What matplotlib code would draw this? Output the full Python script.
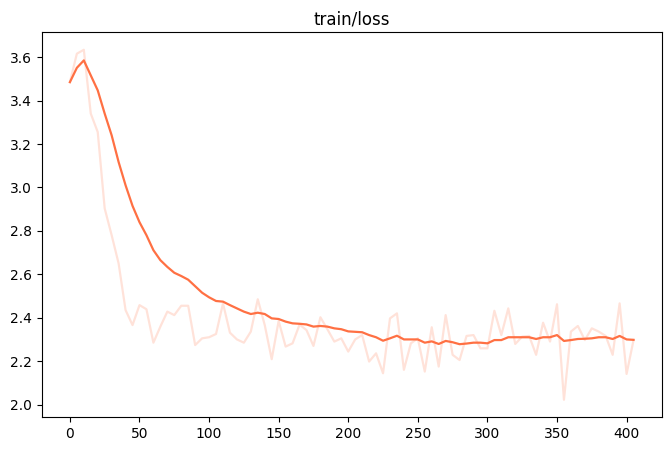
import matplotlib
matplotlib.use("Agg")
import matplotlib.pyplot as plt
import numpy as np

steps = np.arange(0, 410, 5)

raw_loss = [3.485, 3.616, 3.634, 3.34, 3.255, 2.903, 2.78, 2.65, 2.435, 2.366,
            2.458, 2.439, 2.285, 2.359, 2.428, 2.412, 2.455, 2.455, 2.274, 2.305,
            2.31, 2.325, 2.466, 2.331, 2.30, 2.285, 2.336, 2.485, 2.366, 2.209,
            2.385, 2.267, 2.282, 2.368, 2.343, 2.27, 2.402, 2.347, 2.29, 2.305,
            2.244, 2.30, 2.32, 2.198, 2.236, 2.144, 2.397, 2.42, 2.16, 2.282,
            2.305, 2.152, 2.356, 2.175, 2.412, 2.229, 2.205, 2.316, 2.32, 2.259,
            2.259, 2.432, 2.32, 2.443, 2.279, 2.313, 2.316, 2.229, 2.377, 2.29,
            2.462, 2.022, 2.336, 2.362, 2.297, 2.351, 2.336, 2.316, 2.229, 2.466,
            2.141, 2.297]

smooth_loss = [3.485, 3.551, 3.585, 3.516, 3.447, 3.34, 3.24, 3.117, 3.01, 2.915,
               2.84, 2.78, 2.711, 2.665, 2.634, 2.607, 2.592, 2.575, 2.545, 2.515,
               2.494, 2.477, 2.474, 2.458, 2.443, 2.428, 2.417, 2.423, 2.417, 2.397,
               2.394, 2.382, 2.374, 2.372, 2.369, 2.359, 2.362, 2.359, 2.351, 2.347,
               2.337, 2.335, 2.333, 2.32, 2.31, 2.294, 2.305, 2.317, 2.30, 2.30,
               2.30, 2.285, 2.291, 2.279, 2.293, 2.287, 2.278, 2.281, 2.285, 2.285,
               2.282, 2.297, 2.297, 2.31, 2.31, 2.31, 2.31, 2.302, 2.31, 2.31,
               2.32, 2.293, 2.297, 2.302, 2.303, 2.305, 2.31, 2.31, 2.302, 2.316,
               2.30, 2.298]

color = '#ff7043'

fig, ax = plt.subplots(figsize=(8, 5))
ax.plot(steps, raw_loss, color=color, alpha=0.2, linewidth=1.6)
ax.plot(steps, smooth_loss, color=color, linewidth=1.6)
ax.set_title('train/loss')

plt.savefig('out.png', dpi=100, bbox_inches='tight')
